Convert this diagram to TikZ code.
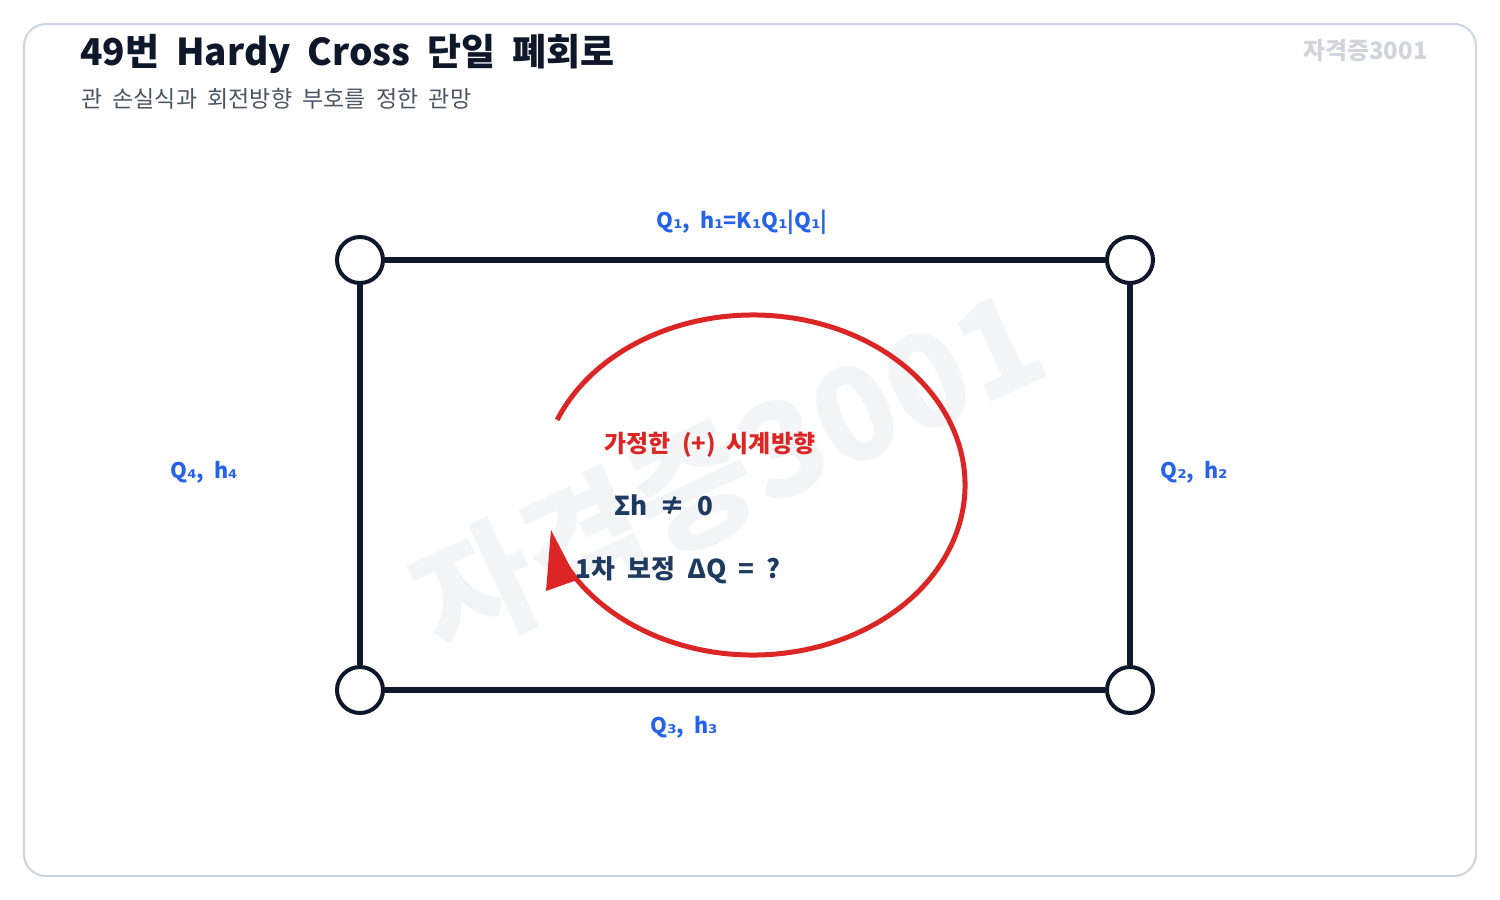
\documentclass[tikz,border=0pt]{standalone}
\usepackage{fontspec}
\setmainfont[WordSpace=2]{Noto Sans CJK KR}
\newfontfamily\subsfont[WordSpace=2]{DejaVu Sans}
\newcommand{\sbs}[1]{{\subsfont #1}}
\usetikzlibrary{arrows.meta,calc}
\definecolor{navy}{HTML}{0F172A}
\definecolor{lblue}{HTML}{2563EB}
\definecolor{cred}{HTML}{DC2626}
\definecolor{dtext}{HTML}{1E3A5F}
\definecolor{frame}{HTML}{CBD5E1}
\definecolor{subg}{HTML}{4B5563}
\definecolor{wm}{HTML}{D1D5DB}
\definecolor{wmbig}{HTML}{F3F4F6}
\tikzset{
  junction/.style={circle, draw=navy, line width=4pt, fill=white, minimum size=46pt, inner sep=0pt},
  pipe/.style={draw=navy, line width=6pt},
  pipelabel/.style={text=lblue, font=\fontsize{21.5}{25}\selectfont\bfseries, inner sep=0pt},
  midtext/.style={text=dtext, font=\fontsize{26}{30}\selectfont\bfseries, inner sep=0pt},
}
\begin{document}
\begin{tikzpicture}[x=1pt,y=-1pt]
\useasboundingbox (0,0) rectangle (1500,900);
\draw[frame, line width=2pt, rounded corners=22pt] (24,24) rectangle (1476,876);
% big watermark
\node[text=wmbig, font=\fontsize{130}{150}\selectfont\bfseries, rotate=25, inner sep=0pt] (wmark) at (728,472) {자격증3001};
% title
\node[anchor=west, text=navy, font=\fontsize{37}{42}\selectfont\bfseries, inner sep=0pt] (title) at (80,54) {49번 Hardy Cross 단일 폐회로};
\node[anchor=west, text=subg, font=\fontsize{23}{27}\selectfont, inner sep=0pt] (subtitle) at (81,99) {관 손실식과 회전방향 부호를 정한 관망};
\node[anchor=east, text=wm, font=\fontsize{24}{28}\selectfont\bfseries, inner sep=0pt] (corner) at (1428,51) {자격증3001};
% junctions
\node[junction] (a) at (360,260) {};
\node[junction] (b) at (1130,260) {};
\node[junction] (c) at (1130,690) {};
\node[junction] (d) at (360,690) {};
\draw[pipe] (a) -- (b);
\draw[pipe] (b) -- (c);
\draw[pipe] (c) -- (d);
\draw[pipe] (d) -- (a);
% labels
\node[pipelabel] (l1) at (742,222) {Q\sbs{₁}, h\sbs{₁}=K\sbs{₁}Q\sbs{₁}|Q\sbs{₁}|};
\node[pipelabel] (l2) at (1194,472) {Q\sbs{₂}, h\sbs{₂}};
\node[pipelabel] (l3) at (684,727) {Q\sbs{₃}, h\sbs{₃}};
\node[pipelabel] (l4) at (204,472) {Q\sbs{₄}, h\sbs{₄}};
% rotation arc
\coordinate (ctr) at (753,485);
\draw[cred, line width=5pt] ($(ctr)+(157.5:212 and -170)$) arc[start angle=157.5, end angle=-152, x radius=212, y radius=-170];
\fill[cred] (551,530) -- (546,591) -- (577,580) -- cycle;
% center texts
\node[text=cred, font=\fontsize{24}{28}\selectfont\bfseries, inner sep=0pt] (t1) at (710,445) {가정한 (+) 시계방향};
\node[midtext] (t2) at (664,505) {Σh ≠ 0};
\node[midtext] (t3) at (678,570) {1차 보정 ΔQ = ?};
\end{tikzpicture}
\end{document}
